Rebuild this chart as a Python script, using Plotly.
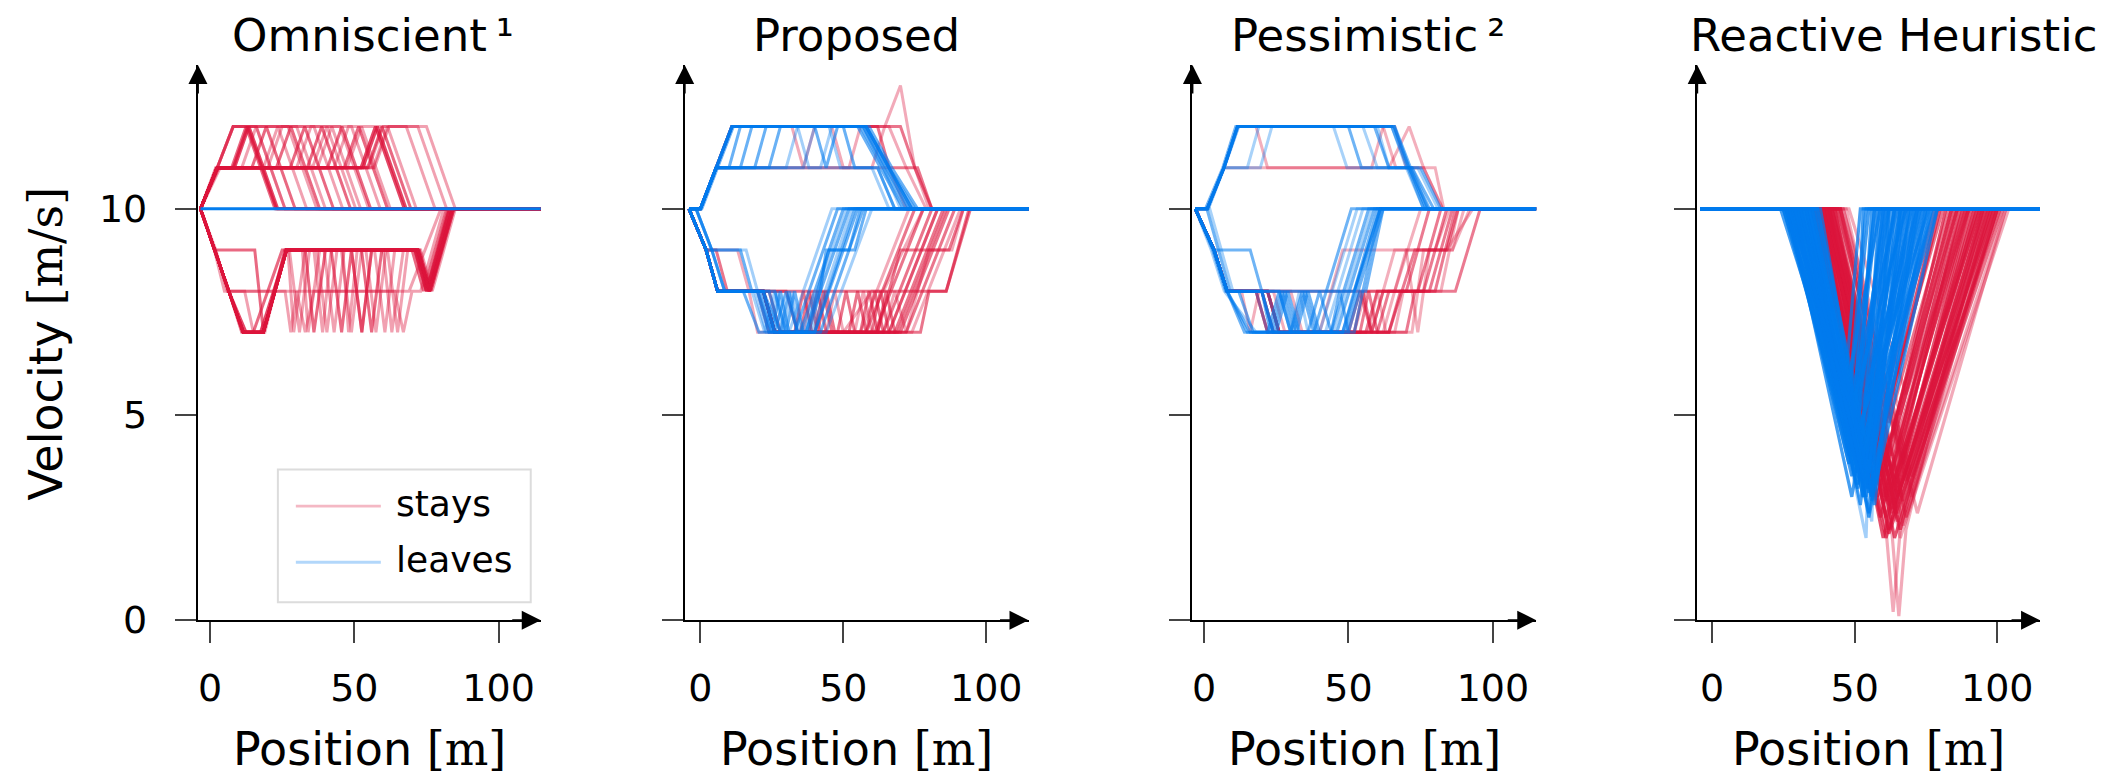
import plotly.graph_objects as go

# ---------------- data (position [m], velocity [m/s]) ----------------
PANEL_TITLES = ["Omniscient\u2009\u00b9", "Proposed", "Pessimistic\u2009\u00b2", "Reactive Heuristic"]
X_TICKS = [0, 50, 100]
Y_TICKS = [0, 5, 10]
X_RANGES = [[-4.2, 114.6], [-5.5, 114.8], [-4.0, 115.0], [-5.2, 115.0]]
Y_RANGE = [0, 13.5]

# each trajectory: [number of runs, [(position, velocity), ...]]
OMNI_LEAVES = [
    [8, [(-3.3, 10), (115, 10)]],
]
OMNI_STAYS = [
    [3, [(-3.3, 10), (2.5, 11), (8, 11), (13, 12), (18, 11), (23, 10), (115, 10)]],
    [3, [(-3.3, 10), (3, 11), (8.5, 11), (13.5, 12), (18.5, 11), (23.5, 10), (115, 10)]],
    [2, [(-3.3, 10), (2, 11), (7.5, 11), (12.5, 12), (17.5, 11), (22.5, 10), (115, 10)]],
    [2, [(-3.3, 10), (2.5, 11), (14.5, 11), (19.5, 12), (24.5, 11), (29.5, 10), (115, 10)]],
    [1, [(-3.3, 10), (2.5, 11), (18.5, 11), (23.5, 12), (28.5, 11), (33.5, 10), (115, 10)]],
    [2, [(-3.3, 10), (2.5, 11), (23, 11), (28, 12), (33, 11), (38, 10), (115, 10)]],
    [2, [(-3.3, 10), (2.5, 11), (27.8, 11), (32.8, 12), (37.8, 11), (42.8, 10), (115, 10)]],
    [2, [(-3.3, 10), (2.5, 11), (33.7, 11), (38.7, 12), (43.7, 11), (48.7, 10), (115, 10)]],
    [1, [(-3.3, 10), (2.5, 11), (37.2, 11), (42.2, 12), (47.2, 11), (52.2, 10), (115, 10)]],
    [2, [(-3.3, 10), (2.5, 11), (40.7, 11), (45.7, 12), (50.7, 11), (55.7, 10), (115, 10)]],
    [2, [(-3.3, 10), (2.5, 11), (46.5, 11), (51.5, 12), (56.5, 11), (61.5, 10), (115, 10)]],
    [1, [(-3.3, 10), (2.5, 11), (47.5, 11), (52.5, 12), (57.5, 11), (62.5, 10), (115, 10)]],
    [3, [(-3.3, 10), (2.5, 11), (52.3, 11), (57.3, 12), (62.3, 11), (67.3, 10), (115, 10)]],
    [3, [(-3.3, 10), (2.5, 11), (53, 11), (58, 12), (63, 11), (68, 10), (115, 10)]],
    [2, [(-3.3, 10), (2.5, 11), (54.6, 11), (59.6, 12), (64.6, 11), (69.6, 10), (115, 10)]],
    [1, [(-3.3, 10), (2.5, 11), (56.5, 11), (61.5, 12), (66.5, 11), (71.5, 10), (115, 10)]],
    [1, [(-3.3, 10), (2.5, 11), (55, 11), (60, 12), (68, 12), (73, 11), (78, 10), (115, 10)]],
    [1, [(-3.3, 10), (2.5, 11), (8, 12), (75, 12), (80, 11), (85, 10), (115, 10)]],
    [1, [(-3.3, 10), (2.5, 11), (8, 12), (16, 12), (21, 11), (26, 10), (115, 10)]],
    [1, [(-3.3, 10), (2.5, 11), (8, 12), (30, 12), (35, 11), (40, 10), (115, 10)]],
    [1, [(-3.3, 10), (3.5, 11), (57, 11), (62, 12), (72, 12), (77, 11), (82, 10), (115, 10)]],
    [1, [(-3.3, 10), (2.5, 11), (8, 12), (45, 12), (50, 11), (55, 10), (115, 10)]],
    [1, [(-3.3, 10), (2.5, 11), (20, 11), (25, 12), (27, 12), (32, 11), (37, 10), (115, 10)]],
    [1, [(-3.3, 10), (2.5, 11), (30, 11), (35, 12), (36, 12), (41, 11), (46, 10), (115, 10)]],
    [1, [(-3.3, 10), (2.5, 11), (43, 11), (48, 12), (49, 12), (54, 11), (59, 10), (115, 10)]],
    [1, [(-3.3, 10), (2.5, 11), (35.5, 11), (40.5, 12), (45.5, 11), (50.5, 10), (115, 10)]],
    [1, [(-3.3, 10), (2.5, 11), (11, 11), (16, 12), (21, 11), (26, 10), (115, 10)]],
    [3, [(-3.3, 10), (1.5, 9), (6.5, 8), (11.5, 7), (18.5, 7), (22.5, 8), (26.5, 9), (72, 9), (76, 8), (84, 10), (115, 10)]],
    [3, [(-3.3, 10), (1.5, 9), (6.5, 8), (12.5, 7), (17.5, 7), (22, 8), (26.5, 9), (71, 9), (75, 8), (83, 10), (115, 10)]],
    [2, [(-3.3, 10), (1.5, 9), (6.5, 8), (11, 7), (15, 7), (20, 8), (25, 9), (70, 9), (74, 8), (82, 10), (115, 10)]],
    [2, [(-3.3, 10), (1.5, 9), (15.5, 9), (18.5, 7), (26, 9), (72.5, 9), (76.5, 8), (84.5, 10), (115, 10)]],
    [1, [(-3.3, 10), (1.5, 9), (6.5, 8), (11.5, 7), (18.5, 7), (22.5, 8), (26.5, 9), (27, 9), (29, 7), (33, 9), (73, 9), (77, 8), (85, 10), (115, 10)]],
    [1, [(-3.3, 10), (1.5, 9), (6.5, 8), (11.5, 7), (18.5, 7), (22.5, 8), (26.5, 9), (32, 9), (34, 7), (38, 9), (71.5, 9), (75.5, 8), (83, 10), (115, 10)]],
    [2, [(-3.3, 10), (1.5, 9), (6.5, 8), (11.5, 7), (18.5, 7), (22.5, 8), (26.5, 9), (33, 9), (36, 7), (40, 9), (72, 9), (76, 8), (84, 10), (115, 10)]],
    [1, [(-3.3, 10), (1.5, 9), (6.5, 8), (11.5, 7), (18.5, 7), (22.5, 8), (26.5, 9), (39.5, 9), (43, 7), (46.5, 9), (71, 9), (75, 8), (82.5, 10), (115, 10)]],
    [2, [(-3.3, 10), (1.5, 9), (6.5, 8), (11.5, 7), (18.5, 7), (22.5, 8), (26.5, 9), (42, 9), (45.6, 7), (49, 9), (52.6, 7), (56, 9), (72, 9), (76, 8), (84, 10), (115, 10)]],
    [1, [(-3.3, 10), (1.5, 9), (6.5, 8), (11.5, 7), (18.5, 7), (22.5, 8), (26.5, 9), (45.5, 9), (49, 7), (52.5, 9), (72.5, 9), (76.5, 8), (84, 10), (115, 10)]],
    [1, [(-3.3, 10), (1.5, 9), (6.5, 8), (11.5, 7), (18.5, 7), (22.5, 8), (26.5, 9), (49, 9), (52.6, 7), (56, 9), (71, 9), (75, 8), (83, 10), (115, 10)]],
    [2, [(-3.3, 10), (1.5, 9), (6.5, 8), (11.5, 7), (18.5, 7), (22.5, 8), (26.5, 9), (52.5, 9), (56, 7), (59.5, 9), (72, 9), (76, 8), (84.5, 10), (115, 10)]],
    [1, [(-3.3, 10), (1.5, 9), (6.5, 8), (11.5, 7), (18.5, 7), (22.5, 8), (26.5, 9), (57, 9), (60.6, 7), (64, 9), (71.5, 9), (75.5, 8), (83.5, 10), (115, 10)]],
    [1, [(-3.3, 10), (1.5, 9), (6.5, 8), (11.5, 7), (18.5, 7), (22.5, 8), (26.5, 9), (61.5, 9), (65, 7), (68.5, 9), (72, 9), (76, 8), (84, 10), (115, 10)]],
    [1, [(-3.3, 10), (1.5, 9), (5, 8), (69, 8), (80, 10), (115, 10)]],
    [1, [(-3.3, 10), (2, 9), (6, 8), (26, 8), (28, 7), (30, 8), (33, 7), (36, 8), (64, 8), (67, 7), (70, 8), (73, 8), (81, 10), (115, 10)]],
    [1, [(-3.3, 10), (1.5, 9), (6.5, 8), (12, 8), (15, 7), (19, 7), (26, 9), (36, 9), (39, 7), (42, 9), (60, 9), (63, 7), (67, 9), (72, 9), (76, 8), (84, 10), (115, 10)]],
    [1, [(-3.3, 10), (1.5, 9), (6.5, 8), (11.5, 7), (18.5, 7), (22.5, 8), (26.5, 9), (27.5, 9), (31, 7), (34.5, 9), (46, 9), (48, 7), (51, 9), (71, 9), (75, 8), (83, 10), (115, 10)]],
    [1, [(-3.3, 10), (1.5, 9), (6.5, 8), (11.5, 7), (18.5, 7), (22.5, 8), (26.5, 9), (37, 9), (40.5, 7), (44, 9), (54, 9), (57.5, 7), (61, 9), (72, 9), (76, 8), (84, 10), (115, 10)]],
]

PROP_LEAVES = [
    [3, [(-4, 10), (0, 10), (5.5, 11), (11, 12), (58, 12), (66, 11), (74, 10), (115, 10)]],
    [2, [(-4, 10), (0.5, 10), (6, 11), (11.5, 12), (57, 12), (65, 11), (73, 10), (115, 10)]],
    [2, [(-4, 10), (0, 10), (5.5, 11), (14, 11), (18, 12), (56, 12), (64, 11), (72, 10), (115, 10)]],
    [2, [(-4, 10), (0, 10), (5.5, 11), (19, 11), (23, 12), (55, 12), (63, 11), (71, 10), (115, 10)]],
    [2, [(-4, 10), (0, 10), (5.5, 11), (24, 11), (28, 12), (58, 12), (66, 11), (75, 10), (115, 10)]],
    [1, [(-4, 10), (0, 10), (5.5, 11), (11, 12), (34, 12), (38, 11), (60, 11), (66, 10), (115, 10)]],
    [1, [(-4, 10), (0, 10), (5.5, 11), (30, 11), (34, 12), (45, 12), (49, 11), (62, 11), (68, 10), (115, 10)]],
    [2, [(-4, 10), (0, 10), (5.5, 11), (11, 12), (40, 12), (44, 11), (48, 12), (58, 12), (66, 11), (74, 10), (115, 10)]],
    [1, [(-4, 10), (0, 10), (5.5, 11), (42, 11), (46, 12), (57, 12), (65, 11), (73, 10), (115, 10)]],
    [2, [(-4, 10), (0, 10), (5.5, 11), (11, 12), (50, 12), (54, 11), (62, 11), (68, 10), (115, 10)]],
    [2, [(-4, 10), (0, 10), (5.5, 11), (10, 11), (14, 12), (59, 12), (67, 11), (76, 10), (115, 10)]],
    [1, [(-4, 10), (0, 10), (5.5, 11), (36, 11), (40, 12), (57, 12), (64, 11), (70, 10), (115, 10)]],
    [2, [(-4, 10), (2, 9), (6, 8), (15, 8), (20.5, 7), (33, 7), (48, 10), (115, 10)]],
    [2, [(-4, 10), (-1.5, 10), (4, 9), (8.5, 8), (21, 8), (25, 7), (28, 8), (31, 7), (35, 7), (50, 10), (115, 10)]],
    [2, [(-4, 10), (2, 9), (6, 8), (22, 8), (26, 7), (30, 8), (34, 7), (37, 7), (52, 10), (115, 10)]],
    [2, [(-4, 10), (2, 9), (6, 8), (20, 8), (24, 7), (37, 7), (41, 8), (45, 9), (54, 9), (58, 10), (115, 10)]],
    [2, [(-4, 10), (2, 9), (14, 9), (18, 8), (22, 8), (26, 7), (40, 7), (55, 10), (115, 10)]],
    [2, [(-4, 10), (-1.5, 10), (4, 9), (8.5, 8), (22, 8), (28, 7), (31, 8), (34, 7), (42, 7), (57, 10), (115, 10)]],
    [1, [(-4, 10), (2, 9), (6, 8), (18, 8), (22.5, 7), (26, 8), (29, 7), (36, 7), (51, 10), (115, 10)]],
    [2, [(-4, 10), (2, 9), (6, 8), (24, 8), (28, 7), (38, 7), (42, 8), (44, 9), (52, 9), (56, 10), (115, 10)]],
    [1, [(-4, 10), (2, 9), (6, 8), (20, 8), (25, 7), (29, 7), (32, 8), (35, 7), (44, 7), (60, 10), (115, 10)]],
    [1, [(-4, 10), (2, 9), (6, 8), (19, 8), (23, 7), (31, 7), (46, 10), (115, 10)]],
    [1, [(-4, 10), (-1.5, 10), (4, 9), (16, 9), (20, 8), (24, 7), (27, 8), (30, 7), (39, 7), (53, 10), (115, 10)]],
    [2, [(-4, 10), (2, 9), (6, 8), (26, 8), (30, 7), (33, 8), (36, 7), (40, 7), (54, 10), (115, 10)]],
]
PROP_STAYS = [
    [2, [(-4, 10), (0, 10), (5.5, 11), (11, 12), (70, 12), (75, 11), (81, 10), (115, 10)]],
    [1, [(-4, 10), (0, 10), (5.5, 11), (60, 11), (64.5, 12), (70, 13), (75, 11), (80, 10), (115, 10)]],
    [2, [(-4, 10), (0, 10), (5.5, 11), (11, 12), (62, 12), (66, 11), (76, 11), (81, 10), (115, 10)]],
    [1, [(-4, 10), (0, 10), (5.5, 11), (52, 11), (56, 12), (66, 12), (72, 11), (79, 10), (115, 10)]],
    [1, [(-4, 10), (0, 10), (5.5, 11), (11, 12), (32, 12), (36, 11), (40, 12), (46, 12), (50, 11), (66, 11), (72, 10), (115, 10)]],
    [2, [(-4, 10), (2, 9), (5.5, 9), (9.4, 8), (86, 8), (94.5, 10), (115, 10)]],
    [2, [(-4, 10), (2, 9), (6, 8), (22, 8), (26, 7), (33, 7), (36, 8), (39, 7), (58, 7), (75, 10), (115, 10)]],
    [2, [(-4, 10), (2, 9), (6, 8), (22, 8), (26, 7), (40, 7), (43, 8), (46, 7), (61, 7), (78, 10), (115, 10)]],
    [2, [(-4, 10), (2, 9), (6, 8), (24, 8), (28, 7), (48, 7), (51, 8), (54, 7), (64, 7), (81, 10), (115, 10)]],
    [2, [(-4, 10), (2, 9), (6, 8), (20, 8), (24, 7), (35, 7), (38, 8), (41, 7), (44, 8), (47, 7), (66, 7), (83, 10), (115, 10)]],
    [2, [(-4, 10), (2, 9), (6, 8), (22, 8), (26, 7), (52, 7), (55, 8), (58, 7), (68, 7), (85, 10), (115, 10)]],
    [2, [(-4, 10), (2, 9), (6, 8), (22, 8), (26, 7), (56, 7), (59, 8), (62, 7), (70, 7), (87, 10), (115, 10)]],
    [2, [(-4, 10), (2, 9), (6, 8), (30, 8), (34, 7), (60, 7), (63, 8), (66, 7), (72, 7), (89, 10), (115, 10)]],
    [1, [(-4, 10), (2, 9), (6, 8), (22, 8), (26, 7), (44, 7), (47, 8), (50, 7), (74, 7), (91, 10), (115, 10)]],
    [2, [(-4, 10), (2, 9), (6, 8), (22, 8), (26, 7), (62, 7), (65, 8), (68, 7), (77, 7), (80, 8), (86, 8), (94, 10), (115, 10)]],
    [2, [(-4, 10), (2, 9), (6, 8), (22, 8), (26, 7), (38, 7), (41, 8), (44, 7), (62, 7), (66, 8), (70, 9), (87, 9), (92, 10), (115, 10)]],
    [1, [(-4, 10), (2, 9), (13, 9), (17, 8), (20, 7), (30, 7), (56, 7), (73, 10), (115, 10)]],
    [1, [(-4, 10), (2, 9), (6, 8), (22, 8), (26, 7), (64, 7), (68, 8), (72, 7), (76, 8), (80, 9), (88, 9), (92, 10), (115, 10)]],
    [1, [(-4, 10), (2, 9), (6, 8), (22, 8), (26, 7), (50, 7), (60, 8), (64, 8), (78, 10), (115, 10)]],
    [2, [(-4, 10), (2, 9), (6, 8), (22, 8), (26, 7), (58, 7), (61, 8), (64, 7), (69, 7), (86, 10), (115, 10)]],
    [1, [(-4, 10), (2, 9), (6, 8), (22, 8), (26, 7), (36, 7), (39, 8), (42, 7), (54, 7), (57, 8), (60, 7), (66, 7), (83, 10), (115, 10)]],
]

PESS_LEAVES = [
    [3, [(-3, 10), (1.1, 10), (6.9, 11), (11.6, 12), (65.8, 12), (71, 11), (76.9, 10), (115, 10)]],
    [2, [(-3, 10), (1.5, 10), (7, 11), (12, 12), (65, 12), (70.5, 11), (76, 10), (115, 10)]],
    [1, [(-3, 10), (1.1, 10), (6.9, 11), (11.6, 12), (44.8, 12), (49.5, 11), (71, 11), (78, 10), (115, 10)]],
    [2, [(-3, 10), (1.1, 10), (6.9, 11), (11.6, 12), (50, 12), (54.5, 11), (72, 11), (79.5, 10), (115, 10)]],
    [1, [(-3, 10), (1.1, 10), (6.9, 11), (11.6, 12), (55, 12), (60, 11), (74, 11), (81, 10), (115, 10)]],
    [2, [(-3, 10), (1.1, 10), (6.9, 11), (11.6, 12), (59, 12), (64, 11), (75, 11), (82, 10), (115, 10)]],
    [1, [(-3, 10), (1.1, 10), (6.9, 11), (15, 11), (19, 12), (65, 12), (70, 11), (76, 10), (115, 10)]],
    [1, [(-3, 10), (1.1, 10), (6.9, 11), (19.5, 11), (23.5, 12), (60, 12), (64, 11), (72, 11), (78, 10), (115, 10)]],
    [2, [(-3, 10), (0.5, 10), (6.5, 11), (11, 12), (66, 12), (71.5, 11), (77.5, 10), (115, 10)]],
    [3, [(-3, 10), (3.5, 9), (8, 8), (52, 8), (61, 10), (115, 10)]],
    [2, [(-3, 10), (3.5, 9), (8, 8), (14, 7), (22, 7), (26, 8), (30, 7), (34, 8), (38, 7), (44, 7), (57, 10), (115, 10)]],
    [2, [(-3, 10), (3.5, 9), (16, 9), (20, 8), (24, 7), (28, 8), (32, 7), (36, 8), (40, 7), (46, 7), (59, 10), (115, 10)]],
    [1, [(-3, 10), (2, 10), (6, 9), (10, 8), (18, 8), (22, 7), (42, 7), (55, 10), (115, 10)]],
    [2, [(-3, 10), (3.5, 9), (8, 8), (20, 8), (24, 7), (36, 7), (40, 8), (44, 7), (48, 7), (61, 10), (115, 10)]],
    [2, [(-3, 10), (3.5, 9), (8, 8), (15, 7), (25, 7), (29, 8), (33, 7), (38, 7), (51, 10), (115, 10)]],
    [2, [(-3, 10), (1, 10), (5, 9), (9, 8), (26, 8), (30, 7), (44, 7), (47, 8), (50, 7), (52, 7), (61, 10), (115, 10)]],
    [2, [(-3, 10), (3.5, 9), (8, 8), (16, 7), (48, 7), (52, 8), (60, 10), (115, 10)]],
    [1, [(-3, 10), (3.5, 9), (8, 8), (22, 8), (26, 7), (40, 7), (53, 10), (115, 10)]],
    [1, [(-3, 10), (2.5, 9), (7, 8), (18, 7), (30, 7), (33, 8), (36, 7), (45, 7), (58, 10), (115, 10)]],
    [2, [(-3, 10), (3.5, 9), (8, 8), (20, 8), (23, 7), (27, 8), (31, 7), (35, 8), (39, 7), (49, 7), (62, 10), (115, 10)]],
    [2, [(-3, 10), (3, 9), (7.5, 8), (12, 8), (17, 7), (50, 7), (54, 8), (56, 8), (62, 10), (115, 10)]],
]
PESS_STAYS = [
    [1, [(-3, 10), (1.1, 10), (6.9, 11), (64, 11), (71, 12), (76, 11), (82.5, 10), (115, 10)]],
    [1, [(-3, 10), (1.1, 10), (6.9, 11), (11.6, 12), (62, 12), (66.4, 11), (76, 11), (82.7, 10), (115, 10)]],
    [1, [(-3, 10), (1.1, 10), (6.9, 11), (11.6, 12), (18, 12), (22, 11), (58, 11), (62, 12), (66, 12), (70, 11), (80, 11), (83, 10), (115, 10)]],
    [2, [(-3, 10), (3.5, 9), (8, 8), (87, 8), (95.6, 10), (115, 10)]],
    [2, [(-3, 10), (3.5, 9), (8, 8), (18, 8), (22, 7), (50, 7), (54, 8), (58, 7), (62, 8), (74, 8), (82, 10), (115, 10)]],
    [2, [(-3, 10), (3.5, 9), (8, 8), (20, 8), (24, 7), (54, 7), (57, 8), (60, 7), (64, 7), (73, 9), (84, 9), (88, 10), (115, 10)]],
    [2, [(-3, 10), (3.5, 9), (8, 8), (22, 8), (26, 7), (56, 7), (60, 8), (70, 8), (78, 10), (115, 10)]],
    [1, [(-3, 10), (3.5, 9), (8, 8), (22, 8), (26, 7), (58, 7), (66, 9), (80, 9), (85, 10), (115, 10)]],
    [2, [(-3, 10), (3.5, 9), (8, 8), (18, 8), (22, 7), (60, 7), (64, 8), (76, 8), (84, 10), (115, 10)]],
    [1, [(-3, 10), (3.5, 9), (8, 8), (24, 8), (28, 7), (62, 7), (70, 9), (86, 9), (90, 10), (115, 10)]],
    [2, [(-3, 10), (3.5, 9), (8, 8), (20, 8), (24, 7), (64, 7), (68, 8), (80, 8), (87, 10), (115, 10)]],
    [1, [(-3, 10), (3.5, 9), (8, 8), (22, 8), (26, 7), (66, 7), (69, 8), (82, 8), (88, 10), (115, 10)]],
    [1, [(-3, 10), (3.5, 9), (8, 8), (22, 8), (26, 7), (40, 7), (48, 9), (70, 9), (74, 7), (78, 9), (86, 9), (92, 10), (115, 10)]],
    [1, [(-3, 10), (3.5, 9), (8, 8), (13, 8), (16, 7), (19, 8), (30, 8), (34, 7), (52, 7), (56, 8), (66, 8), (75, 10), (115, 10)]],
    [2, [(-3, 10), (3.5, 9), (8, 8), (22, 8), (26, 7), (52, 7), (55, 8), (58, 7), (70, 7), (73, 8), (78, 8), (86, 10), (115, 10)]],
    [1, [(-3, 10), (3.5, 9), (8, 8), (22, 8), (26, 7), (57, 7), (60, 8), (63, 7), (72, 7), (76, 9), (84, 9), (93, 10), (115, 10)]],
]

# Reactive heuristic: [number of runs, start of braking, position of minimum, minimum velocity, back at 10 m/s]
HEUR_START = -4.2
HEUR_LEAVES = [
    [3, 25, 47, 4.5, 55], [3, 26, 48, 4.0, 58], [3, 27, 49, 3.5, 60], [3, 26, 48, 3.8, 62], [3, 28, 50, 3.5, 64],
    [3, 27, 49, 3.0, 66], [3, 29, 51, 3.2, 68], [3, 28, 50, 4.0, 70], [3, 30, 52, 3.5, 72], [3, 29, 51, 3.8, 74],
    [3, 31, 53, 3.0, 76], [3, 30, 52, 4.2, 78], [3, 32, 53, 3.3, 61], [3, 33, 54, 3.0, 63], [3, 31, 52, 2.8, 65],
    [3, 34, 55, 3.2, 67], [3, 32, 54, 3.6, 69], [3, 35, 56, 3.0, 71], [3, 33, 53, 4.5, 73], [3, 34, 55, 2.5, 75],
    [3, 27, 49, 5.0, 57], [3, 25, 47, 5.5, 59], [3, 28, 50, 4.8, 53], [3, 30, 51, 4.4, 56], [3, 26, 48, 4.2, 64],
    [3, 29, 50, 3.9, 67], [3, 31, 52, 3.7, 70], [3, 33, 54, 3.4, 73], [3, 35, 55, 3.1, 77], [3, 36, 56, 2.9, 79],
    [1, 30, 54, 2.0, 58], [3, 37, 55, 3.5, 66], [3, 38, 56, 3.0, 62], [3, 28, 49, 4.6, 61], [3, 32, 52, 4.1, 59],
    [3, 25, 48, 4.9, 68], [3, 34, 53, 3.8, 75], [3, 29, 51, 3.3, 71], [3, 36, 55, 3.6, 64], [3, 27, 50, 4.3, 76],
    [3, 24, 46, 5.2, 52], [3, 26, 47, 4.7, 54], [3, 31, 50, 4.9, 57], [3, 33, 52, 4.0, 60], [3, 35, 57, 2.8, 69],
    [3, 37, 57, 3.3, 72], [3, 32, 55, 2.6, 66], [3, 28, 51, 3.6, 79], [3, 30, 53, 3.0, 62], [1, 33, 56, 2.4, 60],
    [2, 26, 49, 4.4, 72], [2, 29, 52, 3.4, 77], [2, 34, 56, 3.1, 74], [2, 31, 54, 3.2, 68], [2, 27, 48, 5.3, 65],
]
HEUR_STAYS = [
    [3, 35, 58, 3.0, 82], [3, 36, 59, 2.5, 86], [3, 37, 60, 2.0, 90], [3, 36, 60, 3.0, 88], [3, 38, 61, 2.5, 92],
    [3, 37, 61, 2.0, 95], [3, 39, 62, 3.0, 94], [3, 38, 62, 2.2, 98], [3, 40, 63, 2.6, 97], [3, 39, 63, 3.2, 93],
    [3, 41, 64, 2.0, 100], [3, 40, 64, 2.8, 99], [2, 42, 65, 2.4, 102], [3, 41, 65, 3.0, 96], [3, 37, 59, 3.5, 84],
    [3, 36, 58, 4.0, 80], [3, 38, 60, 3.4, 85], [3, 39, 61, 2.9, 89], [3, 40, 62, 2.1, 101], [3, 41, 63, 2.7, 91],
    [3, 42, 64, 3.3, 94], [1, 43, 66, 2.0, 104], [1, 44, 67, 2.3, 103], [2, 45, 68, 2.5, 100], [3, 35, 57, 3.8, 79],
    [3, 43, 65, 2.6, 98], [3, 37, 62, 2.8, 87], [3, 41, 66, 2.2, 97], [1, 44, 64, 4.5, 86], [1, 46, 66, 5.0, 88],
    [1, 48, 68, 5.5, 90], [2, 42, 62, 4.8, 83], [2, 40, 60, 5.2, 78], [2, 45, 67, 3.8, 93], [1, 47, 70, 3.0, 99],
    [1, 46, 72, 2.6, 103], [2, 39, 58, 4.4, 81], [2, 43, 63, 4.0, 89], [3, 38, 63, 3.6, 90], [3, 40, 65, 3.1, 95],
    [2, 44, 68, 3.4, 96], [2, 42, 67, 2.9, 99], [2, 45, 70, 3.5, 100], [2, 39, 60, 3.8, 86], [2, 41, 62, 4.2, 84],
]
HEUR_STAYS_DEEP = [
    [1, [(-4.2, 10), (37, 10), (61, 2.2), (63.5, 0.2), (66, 2.2), (92, 10), (115, 10)]],
    [1, [(-4.2, 10), (38, 10), (63, 2.2), (65.5, 0.1), (68, 2.2), (95, 10), (115, 10)]],
]

RED_RGB = (220, 20, 60)
BLUE_RGB = (0, 123, 238)
LEGEND_ALPHA = 0.3
PANEL_ALPHA = [0.4, 0.36, 0.34, 0.36]   # opacity of one run in each panel
PANEL_WIDTH = [3.0, 3.0, 3.0, 3.2]
LEGEND_LABELS = ["stays", "leaves"]

# ---------------- figure ----------------
W, H = 2118, 783
H_EFF = 762  # vertical extent the photographed page maps onto
X_DOMAINS_PX = [(197, 540), (684, 1028), (1192, 1536), (1697, 2040)]
Y_DOMAIN_PX = (65, 621)
TITLE_CENTERS_PX = [372, 856, 1368, 1893]
TEXT_FONT = "DejaVu Sans"


def fy(px):
    return 1 - px / H_EFF


def rgba(rgb, n, base):
    a = 1 - (1 - base) ** n
    return f"rgba({rgb[0]},{rgb[1]},{rgb[2]},{a:.3f})"


fig = go.Figure()


def add_paths(paths, rgb, i):
    for n, p in paths:
        fig.add_trace(go.Scatter(
            x=[q[0] for q in p], y=[q[1] for q in p], mode="lines",
            line=dict(color=rgba(rgb, n, PANEL_ALPHA[i - 1]), width=PANEL_WIDTH[i - 1]),
            xaxis="x" if i == 1 else f"x{i}", yaxis="y" if i == 1 else f"y{i}",
            showlegend=False, hoverinfo="skip"))


def heur_paths(rows):
    return [[r[0], [(HEUR_START, 10), (r[1], 10), (r[2], r[3]), (r[4], 10), (115, 10)]] for r in rows]


add_paths(OMNI_STAYS, RED_RGB, 1)
add_paths(OMNI_LEAVES, BLUE_RGB, 1)
add_paths(PROP_STAYS, RED_RGB, 2)
add_paths(PROP_LEAVES, BLUE_RGB, 2)
add_paths(PESS_STAYS, RED_RGB, 3)
add_paths(PESS_LEAVES, BLUE_RGB, 3)
add_paths(heur_paths(HEUR_STAYS) + HEUR_STAYS_DEEP, RED_RGB, 4)
add_paths(heur_paths(HEUR_LEAVES), BLUE_RGB, 4)

layout = dict(
    width=W, height=H, autosize=False,
    margin=dict(l=0, r=0, t=0, b=0, pad=0),
    paper_bgcolor="white", plot_bgcolor="white",
    showlegend=False,
)
annotations = []
shapes = []
tick_font = dict(family=TEXT_FONT, size=38, color="black")
for i in range(1, 5):
    sx = "" if i == 1 else str(i)
    x0, x1 = X_DOMAINS_PX[i - 1]
    layout[f"xaxis{sx}"] = dict(
        domain=[x0 / W, x1 / W], range=X_RANGES[i - 1], anchor=f"y{sx}",
        tickmode="array", tickvals=X_TICKS, ticks="outside", ticklen=21, tickwidth=1.5,
        tickcolor="#444", showline=True, linecolor="black", linewidth=2,
        showgrid=False, zeroline=False, tickfont=tick_font, ticklabelstandoff=12,
        fixedrange=True)
    layout[f"yaxis{sx}"] = dict(
        domain=[fy(Y_DOMAIN_PX[1]), fy(Y_DOMAIN_PX[0])], range=Y_RANGE, anchor=f"x{sx}",
        tickmode="array", tickvals=Y_TICKS, ticks="outside", ticklen=21, tickwidth=1.5,
        tickcolor="#444", showline=True, linecolor="black", linewidth=2,
        showgrid=False, zeroline=False, tickfont=tick_font, ticklabelstandoff=20,
        showticklabels=(i == 1), fixedrange=True)
    annotations.append(dict(x=X_RANGES[i - 1][1], y=0, xref=f"x{sx}", yref=f"y{sx}",
                            ax=-30, ay=0, axref="pixel", ayref="pixel", text="",
                            showarrow=True, arrowhead=2, arrowsize=1.9, arrowwidth=2,
                            arrowcolor="black", standoff=0))
    annotations.append(dict(x=X_RANGES[i - 1][0], y=Y_RANGE[1], xref=f"x{sx}", yref=f"y{sx}",
                            ax=0, ay=30, axref="pixel", ayref="pixel", text="",
                            showarrow=True, arrowhead=2, arrowsize=1.9, arrowwidth=2,
                            arrowcolor="black", standoff=0))
    annotations.append(dict(x=TITLE_CENTERS_PX[i - 1] / W, y=fy(36), xref="paper", yref="paper",
                            text=PANEL_TITLES[i - 1], showarrow=False, xanchor="center",
                            yanchor="middle", font=dict(family=TEXT_FONT, size=45, color="black")))
    annotations.append(dict(x=(x0 + x1) / 2 / W, y=fy(750), xref="paper", yref="paper",
                            text="Position <span style='font-family:DejaVu Serif'>[m]</span>",
                            showarrow=False, xanchor="center", yanchor="middle",
                            font=dict(family=TEXT_FONT, size=46, color="black")))

annotations.append(dict(x=45 / W, y=fy(344), xref="paper", yref="paper",
                        text="Velocity <span style='font-family:DejaVu Serif'>[m/s]</span>",
                        textangle=-90, showarrow=False, xanchor="center", yanchor="middle",
                        font=dict(family=TEXT_FONT, size=46, color="black")))

shapes.append(dict(type="rect", xref="paper", yref="paper", x0=277 / W, x1=530 / W,
                   y0=fy(603), y1=fy(470), line=dict(color="#dcdcdc", width=2),
                   fillcolor="rgba(0,0,0,0)"))
for k, (rgb, ypx) in enumerate([(RED_RGB, 506.7), (BLUE_RGB, 563)]):
    shapes.append(dict(type="line", xref="paper", yref="paper", x0=295 / W, x1=380 / W,
                       y0=fy(ypx), y1=fy(ypx), line=dict(color=rgba(rgb, 1, LEGEND_ALPHA), width=2.8)))
    annotations.append(dict(x=393 / W, y=fy(ypx - 3), xref="paper", yref="paper",
                            text=LEGEND_LABELS[k], showarrow=False, xanchor="left", yanchor="middle",
                            font=dict(family=TEXT_FONT, size=36, color="black")))

layout["annotations"] = annotations
layout["shapes"] = shapes
fig.update_layout(**layout)

fig.write_html("out.html", config={"displayModeBar": False},
               post_script="document.body.style.margin='0';document.body.style.overflow='hidden';")
